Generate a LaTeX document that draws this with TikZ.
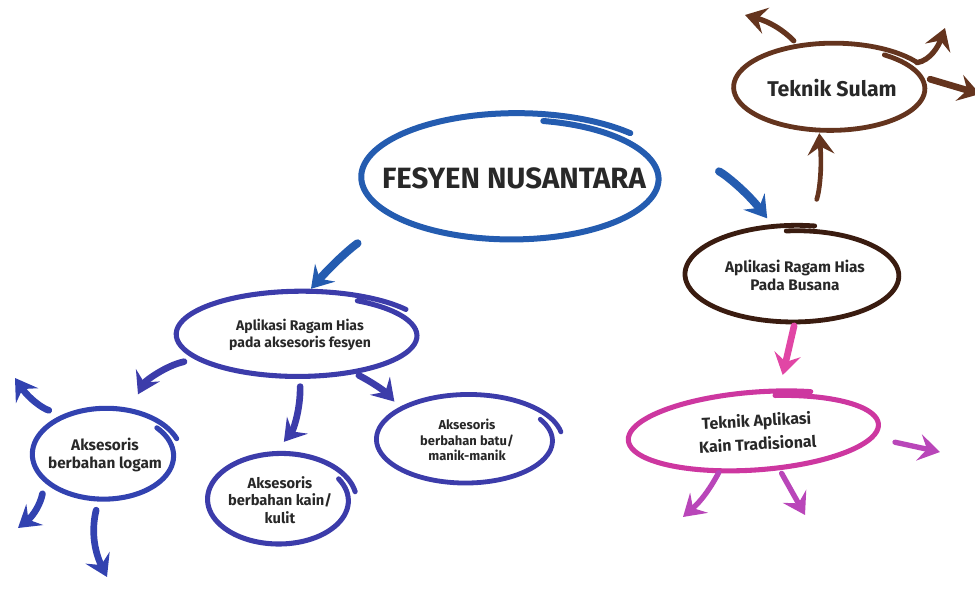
\documentclass[tikz,border=0pt]{standalone}
\usepackage{fontspec}
\setmainfont{Fira Sans}
\usepackage{xcolor}
\usetikzlibrary{shapes,arrows.meta,positioning,calc}

\definecolor{inkgrey}{RGB}{40,40,40}
\definecolor{fesyenblue}{RGB}{36,92,176}
\definecolor{aksindigo}{RGB}{60,60,170}
\definecolor{logamblue}{RGB}{50,66,176}
\definecolor{sulambrown}{RGB}{100,52,30}
\definecolor{busanabrown}{RGB}{58,28,16}
\definecolor{arrowpink}{RGB}{225,70,165}
\definecolor{kainpink}{RGB}{205,55,160}
\definecolor{kainpurple}{RGB}{185,70,185}

% hand drawn loop round a node: node, rx, ry, start angle, span, width, options
\newcommand{\handloop}[7]{%
  \draw[line width=#6, line cap=round, shift={(#1.center)}, #7]
    plot[smooth, samples=90, domain=0:#5, variable=\t]
    ({#2*(0.94+0.12*\t/#5)*cos(#4-\t)}, {#3*(0.94+0.12*\t/#5)*sin(#4-\t)});
}

\begin{document}
\begin{tikzpicture}[x=0.75pt, y=0.75pt,
  bubble/.style={ellipse, inner sep=0pt, align=center, text=inkgrey},
  swoosh/.style={line width=4pt, line cap=round, -{Stealth[length=16pt,width=20pt,inset=6pt]}}]
\useasboundingbox (0,0) rectangle (975,-602);

% topics
\node[bubble, minimum width=225pt, minimum height=93pt, font=\bfseries\fontsize{22}{26}\selectfont] (fesyen) at (514,-178) {FESYEN NUSANTARA};
\node[bubble, minimum width=145pt, minimum height=64pt, font=\bfseries\fontsize{16}{19}\selectfont] (sulam) at (832,-88) {Teknik Sulam};
\node[bubble, minimum width=160pt, minimum height=70pt, font=\bfseries\fontsize{11.5}{13.5}\selectfont] (busana) at (795,-275) {Aplikasi Ragam Hias\\Pada Busana};
\node[bubble, minimum width=189pt, minimum height=57pt, rotate=3, font=\bfseries\fontsize{12}{17.5}\selectfont] (kain) at (757,-432) {Teknik Aplikasi\\Kain Tradisional};
\node[bubble, minimum width=183pt, minimum height=63pt, font=\bfseries\fontsize{10.5}{12.5}\selectfont] (aksesoris) at (300,-335) {Aplikasi Ragam Hias\\pada aksesoris fesyen};
\node[bubble, minimum width=108pt, minimum height=67pt, font=\bfseries\fontsize{11.5}{13.5}\selectfont] (logam) at (105,-455) {Aksesoris\\berbahan logam};
\node[bubble, minimum width=108pt, minimum height=67pt, font=\bfseries\fontsize{11}{13}\selectfont] (kulit) at (280,-500) {Aksesoris\\berbahan kain/\\kulit};
\node[bubble, minimum width=135pt, minimum height=66pt, font=\bfseries\fontsize{9.7}{11.7}\selectfont] (batu) at (467,-440) {Aksesoris\\berbahan batu/\\manik-manik};

% loops
\handloop{fesyen}{150}{62}{78}{395}{4.5pt}{fesyenblue}
\handloop{sulam}{97}{43}{55}{380}{3.6pt}{sulambrown}
\handloop{busana}{107}{47}{95}{375}{3.6pt}{busanabrown}
\handloop{kain}{126}{38}{80}{375}{3.8pt}{kainpink, rotate=4}
\handloop{aksesoris}{122}{42}{60}{385}{3.8pt}{aksindigo}
\handloop{logam}{72}{45}{40}{380}{3.8pt}{logamblue}
\handloop{kulit}{72}{45}{30}{380}{3.8pt}{aksindigo}
\handloop{batu}{90}{44}{30}{380}{3.6pt}{aksindigo}

% connectors
\draw[swoosh, fesyenblue, line width=6pt, shorten <=28pt, shorten >=10pt] (fesyen.8) to[bend left=12] (busana.113);
\draw[swoosh, fesyenblue, line width=6pt, shorten <=27pt, shorten >=4pt] (fesyen.200) to[bend right=8] (aksesoris.80);
\draw[swoosh, sulambrown, line width=3.5pt, shorten <=23pt, shorten >=2pt] (busana.76) to[bend right=12] (sulam.253);
\draw[swoosh, arrowpink, line width=5pt, shorten <=3pt, shorten >=14pt] (busana.south) -- (kain.58);
\draw[swoosh, aksindigo, line width=5pt, shorten <=11pt, shorten >=15pt] (aksesoris.193) to[bend right=25] (logam.61);
\draw[swoosh, aksindigo, line width=5pt, shorten <=7pt, shorten >=13pt] (aksesoris.-90) to[bend left=20] (kulit.99);
\draw[swoosh, aksindigo, line width=5pt, shorten <=4pt, shorten >=8pt] (aksesoris.-35) to[bend left=10] (batu.155);

% free arrows
\coordinate (sulamtipa) at (745,-15);
\coordinate (sulamtipb) at (945,-28);
\coordinate (sulamtipc) at (980,-94);
\draw[swoosh, sulambrown, shorten <=7pt] (sulam.128) to[bend right=15] (sulamtipa);
\draw[swoosh, sulambrown, shorten <=4pt] (sulam.17) to[out=10, in=-110] (sulamtipb);
\draw[swoosh, sulambrown, line width=5pt, shorten <=3pt] (sulam.6) -- (sulamtipc);

\coordinate (kaintipa) at (940,-452);
\coordinate (kaintipb) at (683,-517);
\coordinate (kaintipc) at (805,-515);
\draw[swoosh, kainpurple, shorten <=14pt] (kain.-6) -- (kaintipa);
\draw[swoosh, kainpurple, shorten <=2pt] (kain.223) to[bend left=10] (kaintipb);
\draw[swoosh, kainpurple, shorten <=4pt] (kain.298) -- (kaintipc);

\coordinate (logamtipa) at (15,-378);
\coordinate (logamtipb) at (18,-528);
\coordinate (logamtipc) at (107,-577);
\draw[swoosh, logamblue, line width=5pt, shorten <=14pt] (logam.134) to[bend left=20] (logamtipa);
\draw[swoosh, logamblue, line width=5pt, shorten <=7pt] (logam.206) to[bend left=20] (logamtipb);
\draw[swoosh, logamblue, line width=5pt, shorten <=8pt] (logam.262) to[bend right=20] (logamtipc);
\end{tikzpicture}
\end{document}
